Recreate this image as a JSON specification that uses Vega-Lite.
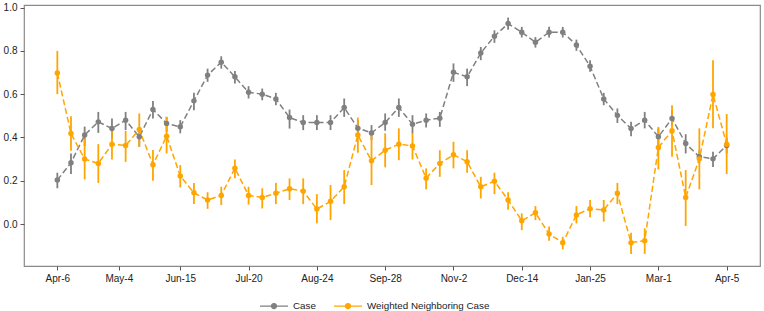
{
  "$schema": "https://vega.github.io/schema/vega-lite/v6.json",
  "width": 736,
  "height": 261,
  "autosize": {"type": "none"},
  "padding": {"left": 24, "top": 5, "right": 4, "bottom": 45},
  "background": "white",
  "config": {
    "view": {"stroke": "#8a8a8a", "strokeWidth": 1.2},
    "font": "Liberation Sans",
    "axis": {"grid": false, "domain": false, "tickColor": "#555", "tickSize": 4, "labelFont": "Liberation Sans", "labelFontSize": 10, "labelColor": "#222", "labelPadding": 3, "title": null}
  },
  "data": {"values": [
    {"i":0,"s":"Case","v":0.203,"lo":0.165,"hi":0.237},
    {"i":1,"s":"Case","v":0.283,"lo":0.231,"hi":0.326},
    {"i":2,"s":"Case","v":0.411,"lo":0.36,"hi":0.45},
    {"i":3,"s":"Case","v":0.472,"lo":0.421,"hi":0.518},
    {"i":4,"s":"Case","v":0.441,"lo":0.395,"hi":0.488},
    {"i":5,"s":"Case","v":0.48,"lo":0.434,"hi":0.518},
    {"i":6,"s":"Case","v":0.403,"lo":0.357,"hi":0.442},
    {"i":7,"s":"Case","v":0.529,"lo":0.488,"hi":0.568},
    {"i":8,"s":"Case","v":0.465,"lo":0.426,"hi":0.495},
    {"i":9,"s":"Case","v":0.449,"lo":0.419,"hi":0.48},
    {"i":10,"s":"Case","v":0.569,"lo":0.526,"hi":0.606},
    {"i":11,"s":"Case","v":0.688,"lo":0.657,"hi":0.718},
    {"i":12,"s":"Case","v":0.748,"lo":0.718,"hi":0.775},
    {"i":13,"s":"Case","v":0.68,"lo":0.649,"hi":0.707},
    {"i":14,"s":"Case","v":0.609,"lo":0.58,"hi":0.637},
    {"i":15,"s":"Case","v":0.6,"lo":0.572,"hi":0.626},
    {"i":16,"s":"Case","v":0.578,"lo":0.549,"hi":0.606},
    {"i":17,"s":"Case","v":0.492,"lo":0.441,"hi":0.529},
    {"i":18,"s":"Case","v":0.469,"lo":0.434,"hi":0.503},
    {"i":19,"s":"Case","v":0.469,"lo":0.434,"hi":0.503},
    {"i":20,"s":"Case","v":0.469,"lo":0.434,"hi":0.503},
    {"i":21,"s":"Case","v":0.538,"lo":0.495,"hi":0.58},
    {"i":22,"s":"Case","v":0.443,"lo":0.406,"hi":0.48},
    {"i":23,"s":"Case","v":0.421,"lo":0.388,"hi":0.457},
    {"i":24,"s":"Case","v":0.469,"lo":0.431,"hi":0.511},
    {"i":25,"s":"Case","v":0.538,"lo":0.495,"hi":0.58},
    {"i":26,"s":"Case","v":0.461,"lo":0.419,"hi":0.503},
    {"i":27,"s":"Case","v":0.48,"lo":0.446,"hi":0.511},
    {"i":28,"s":"Case","v":0.489,"lo":0.449,"hi":0.518},
    {"i":29,"s":"Case","v":0.701,"lo":0.657,"hi":0.742},
    {"i":30,"s":"Case","v":0.68,"lo":0.637,"hi":0.718},
    {"i":31,"s":"Case","v":0.79,"lo":0.757,"hi":0.818},
    {"i":32,"s":"Case","v":0.868,"lo":0.837,"hi":0.895},
    {"i":33,"s":"Case","v":0.926,"lo":0.898,"hi":0.954},
    {"i":34,"s":"Case","v":0.886,"lo":0.862,"hi":0.911},
    {"i":35,"s":"Case","v":0.84,"lo":0.815,"hi":0.864},
    {"i":36,"s":"Case","v":0.886,"lo":0.862,"hi":0.911},
    {"i":37,"s":"Case","v":0.886,"lo":0.862,"hi":0.911},
    {"i":38,"s":"Case","v":0.827,"lo":0.8,"hi":0.852},
    {"i":39,"s":"Case","v":0.729,"lo":0.703,"hi":0.757},
    {"i":40,"s":"Case","v":0.578,"lo":0.549,"hi":0.606},
    {"i":41,"s":"Case","v":0.502,"lo":0.467,"hi":0.534},
    {"i":42,"s":"Case","v":0.441,"lo":0.406,"hi":0.472},
    {"i":43,"s":"Case","v":0.48,"lo":0.442,"hi":0.518},
    {"i":44,"s":"Case","v":0.403,"lo":0.365,"hi":0.442},
    {"i":45,"s":"Case","v":0.488,"lo":0.452,"hi":0.526},
    {"i":46,"s":"Case","v":0.372,"lo":0.326,"hi":0.415},
    {"i":47,"s":"Case","v":0.311,"lo":0.28,"hi":0.341},
    {"i":48,"s":"Case","v":0.301,"lo":0.264,"hi":0.334},
    {"i":49,"s":"Case","v":0.363,"lo":0.326,"hi":0.4},
    {"i":0,"s":"Weighted Neighboring Case","v":0.698,"lo":0.6,"hi":0.8},
    {"i":1,"s":"Weighted Neighboring Case","v":0.418,"lo":0.338,"hi":0.498},
    {"i":2,"s":"Weighted Neighboring Case","v":0.3,"lo":0.206,"hi":0.395},
    {"i":3,"s":"Weighted Neighboring Case","v":0.28,"lo":0.19,"hi":0.369},
    {"i":4,"s":"Weighted Neighboring Case","v":0.369,"lo":0.298,"hi":0.434},
    {"i":5,"s":"Weighted Neighboring Case","v":0.363,"lo":0.287,"hi":0.43},
    {"i":6,"s":"Weighted Neighboring Case","v":0.437,"lo":0.357,"hi":0.511},
    {"i":7,"s":"Weighted Neighboring Case","v":0.274,"lo":0.2,"hi":0.342},
    {"i":8,"s":"Weighted Neighboring Case","v":0.406,"lo":0.326,"hi":0.495},
    {"i":9,"s":"Weighted Neighboring Case","v":0.222,"lo":0.169,"hi":0.272},
    {"i":10,"s":"Weighted Neighboring Case","v":0.144,"lo":0.092,"hi":0.19},
    {"i":11,"s":"Weighted Neighboring Case","v":0.111,"lo":0.07,"hi":0.147},
    {"i":12,"s":"Weighted Neighboring Case","v":0.132,"lo":0.088,"hi":0.172},
    {"i":13,"s":"Weighted Neighboring Case","v":0.258,"lo":0.211,"hi":0.298},
    {"i":14,"s":"Weighted Neighboring Case","v":0.132,"lo":0.09,"hi":0.172},
    {"i":15,"s":"Weighted Neighboring Case","v":0.123,"lo":0.072,"hi":0.165},
    {"i":16,"s":"Weighted Neighboring Case","v":0.142,"lo":0.092,"hi":0.19},
    {"i":17,"s":"Weighted Neighboring Case","v":0.163,"lo":0.111,"hi":0.211},
    {"i":18,"s":"Weighted Neighboring Case","v":0.152,"lo":0.092,"hi":0.211},
    {"i":19,"s":"Weighted Neighboring Case","v":0.069,"lo":0.003,"hi":0.138},
    {"i":20,"s":"Weighted Neighboring Case","v":0.105,"lo":0.018,"hi":0.18},
    {"i":21,"s":"Weighted Neighboring Case","v":0.172,"lo":0.092,"hi":0.249},
    {"i":22,"s":"Weighted Neighboring Case","v":0.411,"lo":0.329,"hi":0.492},
    {"i":23,"s":"Weighted Neighboring Case","v":0.292,"lo":0.18,"hi":0.411},
    {"i":24,"s":"Weighted Neighboring Case","v":0.341,"lo":0.262,"hi":0.419},
    {"i":25,"s":"Weighted Neighboring Case","v":0.369,"lo":0.295,"hi":0.442},
    {"i":26,"s":"Weighted Neighboring Case","v":0.361,"lo":0.298,"hi":0.421},
    {"i":27,"s":"Weighted Neighboring Case","v":0.212,"lo":0.16,"hi":0.257},
    {"i":28,"s":"Weighted Neighboring Case","v":0.28,"lo":0.218,"hi":0.341},
    {"i":29,"s":"Weighted Neighboring Case","v":0.32,"lo":0.257,"hi":0.38},
    {"i":30,"s":"Weighted Neighboring Case","v":0.288,"lo":0.237,"hi":0.341},
    {"i":31,"s":"Weighted Neighboring Case","v":0.172,"lo":0.118,"hi":0.218},
    {"i":32,"s":"Weighted Neighboring Case","v":0.198,"lo":0.138,"hi":0.237},
    {"i":33,"s":"Weighted Neighboring Case","v":0.111,"lo":0.066,"hi":0.147},
    {"i":34,"s":"Weighted Neighboring Case","v":0.015,"lo":-0.028,"hi":0.049},
    {"i":35,"s":"Weighted Neighboring Case","v":0.052,"lo":0.018,"hi":0.083},
    {"i":36,"s":"Weighted Neighboring Case","v":-0.046,"lo":-0.077,"hi":-0.012},
    {"i":37,"s":"Weighted Neighboring Case","v":-0.086,"lo":-0.117,"hi":-0.059},
    {"i":38,"s":"Weighted Neighboring Case","v":0.042,"lo":0.003,"hi":0.083},
    {"i":39,"s":"Weighted Neighboring Case","v":0.071,"lo":0.031,"hi":0.111},
    {"i":40,"s":"Weighted Neighboring Case","v":0.065,"lo":0.011,"hi":0.111},
    {"i":41,"s":"Weighted Neighboring Case","v":0.142,"lo":0.092,"hi":0.19},
    {"i":42,"s":"Weighted Neighboring Case","v":-0.086,"lo":-0.138,"hi":-0.04},
    {"i":43,"s":"Weighted Neighboring Case","v":-0.077,"lo":-0.138,"hi":-0.02},
    {"i":44,"s":"Weighted Neighboring Case","v":0.354,"lo":0.252,"hi":0.449},
    {"i":45,"s":"Weighted Neighboring Case","v":0.431,"lo":0.311,"hi":0.549},
    {"i":46,"s":"Weighted Neighboring Case","v":0.123,"lo":-0.009,"hi":0.249},
    {"i":47,"s":"Weighted Neighboring Case","v":0.301,"lo":0.16,"hi":0.442},
    {"i":48,"s":"Weighted Neighboring Case","v":0.598,"lo":0.442,"hi":0.757},
    {"i":49,"s":"Weighted Neighboring Case","v":0.369,"lo":0.231,"hi":0.508}
  ]},
  "encoding": {
    "x": {
      "field": "i", "type": "quantitative",
      "scale": {"domain": [-2.44, 51.44], "nice": false, "zero": false},
      "axis": {
        "values": [0, 4.5, 9, 14, 19, 24, 29, 34, 39, 44, 49],
        "labelExpr": "['Apr-6','May-4','Jun-15','Jul-20','Aug-24','Sep-28','Nov-2','Dec-14','Jan-25','Mar-1','Apr-5'][indexof([0,4.5,9,14,19,24,29,34,39,44,49], datum.value)]"
      }
    },
    "color": {
      "field": "s", "type": "nominal",
      "scale": {"domain": ["Case", "Weighted Neighboring Case"], "range": ["#808080", "#FFA500"]},
      "legend": {
        "orient": "none", "legendX": 235, "legendY": 286, "direction": "horizontal", "title": null,
        "symbolType": "M-1,0L-0.18,0M0.18,0L1,0M0.18,0A0.18,0.18 0 1,1 -0.18,0A0.18,0.18 0 1,1 0.18,0",
        "symbolSize": 784, "symbolStrokeWidth": 1.2,
        "labelFont": "Liberation Sans", "labelFontSize": 9.8, "labelColor": "#222",
        "columnPadding": 15, "labelOffset": 4
      }
    }
  },
  "layer": [
    {
      "mark": {"type": "rule", "strokeWidth": 1.8},
      "encoding": {
        "y": {"field": "lo", "type": "quantitative", "scale": {"domain": [-0.194, 1.012], "nice": false, "zero": false},
          "axis": {"values": [0, 0.2, 0.4, 0.6, 0.8, 1.0], "format": ".1f"}},
        "y2": {"field": "hi"}
      }
    },
    {
      "mark": {"type": "line", "strokeDash": [6, 3], "strokeWidth": 1.5},
      "encoding": {"y": {"field": "v", "type": "quantitative"}}
    },
    {
      "mark": {"type": "point", "filled": true, "opacity": 1, "size": 30},
      "encoding": {"y": {"field": "v", "type": "quantitative"}}
    }
  ]
}
